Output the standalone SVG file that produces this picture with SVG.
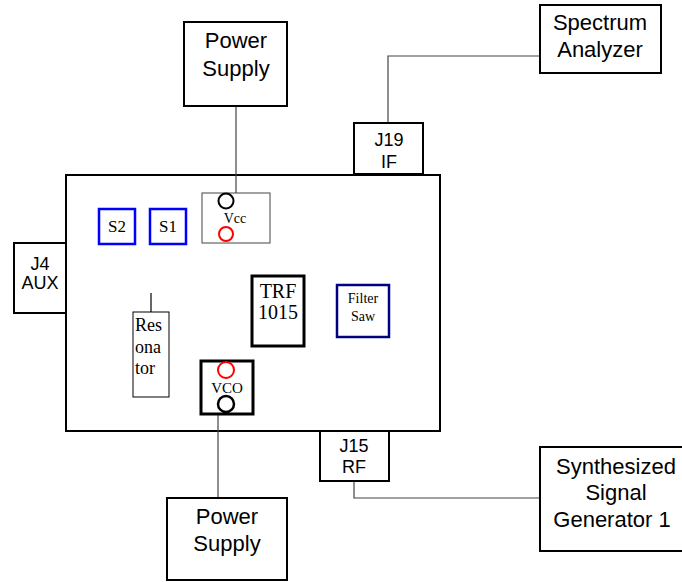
<svg xmlns="http://www.w3.org/2000/svg" width="682" height="582" viewBox="0 0 682 582">
<style>
.box{fill:#fff;stroke:#000;stroke-width:2}
.wire{fill:none;stroke:#444;stroke-width:1.2}
.sans{font-family:"Liberation Sans",Arial,sans-serif;fill:#000;text-anchor:middle}
.serif{font-family:"Liberation Serif","Times New Roman",serif;fill:#000;text-anchor:middle}
.blue{fill:#fff;stroke:#0000ff;stroke-width:2.5}
</style>
<rect width="682" height="582" fill="#fff"/>
<g id="board"><rect x="66" y="175" width="374" height="256" class="box"/></g>
<g id="connectors">
<path class="wire" d="M236,107 V193"/>
<path class="wire" d="M540,56 H388 V123"/>
<path class="wire" d="M218,412 V498"/>
<path class="wire" d="M354,481 V498 H540"/>
<path class="wire" d="M151,293 V312" style="stroke:#000"/>
</g>
<g id="power-top"><rect x="184" y="22" width="103" height="84" class="box"/>
<text class="sans" x="236" y="48" font-size="22">Power</text>
<text class="sans" x="236" y="76" font-size="22">Supply</text></g>
<g id="spectrum"><rect x="540" y="5" width="121" height="68" class="box"/>
<text class="sans" x="600" y="30" font-size="22">Spectrum</text>
<text class="sans" x="600" y="57" font-size="22">Analyzer</text></g>
<g id="j19"><rect x="354" y="123" width="69" height="51" class="box"/>
<text class="sans" x="389" y="146" font-size="18">J19</text>
<text class="sans" x="389" y="168" font-size="18">IF</text></g>
<g id="j4"><rect x="14" y="243" width="52" height="70" class="box"/>
<text class="sans" x="40" y="270" font-size="18">J4</text>
<text class="sans" x="40" y="289" font-size="18">AUX</text></g>
<g id="s2"><rect x="99" y="209" width="36" height="35" class="blue"/>
<text class="serif" x="117" y="232" font-size="17">S2</text></g>
<g id="s1"><rect x="150" y="209" width="36" height="35" class="blue"/>
<text class="serif" x="168" y="232" font-size="17">S1</text></g>
<g id="vcc"><rect x="202" y="193" width="68" height="50" fill="#fff" stroke="#444" stroke-width="1"/>
<circle cx="226" cy="201" r="7.5" fill="none" stroke="#000" stroke-width="2"/>
<circle cx="226" cy="234" r="7" fill="none" stroke="#ff0000" stroke-width="2"/>
<text class="serif" x="235" y="223" font-size="14">Vcc</text></g>
<g id="trf"><rect x="252" y="276" width="52" height="70" fill="#fff" stroke="#000" stroke-width="3"/>
<text class="serif" x="278" y="298" font-size="20">TRF</text>
<text class="serif" x="278" y="319" font-size="20">1015</text></g>
<g id="filter"><rect x="337" y="285" width="52" height="52" fill="#fff" stroke="#000080" stroke-width="2.5"/>
<text class="serif" x="363" y="303" font-size="14">Filter</text>
<text class="serif" x="363" y="321" font-size="14">Saw</text></g>
<g id="resonator"><rect x="133" y="312" width="36" height="85" fill="#fff" stroke="#000" stroke-width="1"/>
<text class="serif" x="135" y="331" font-size="18" style="text-anchor:start">Res</text>
<text class="serif" x="135" y="353" font-size="18" style="text-anchor:start">ona</text>
<text class="serif" x="135" y="374" font-size="18" style="text-anchor:start">tor</text></g>
<g id="vco"><rect x="201" y="361" width="52" height="53" fill="#fff" stroke="#000" stroke-width="3"/>
<circle cx="226" cy="370" r="8" fill="none" stroke="#ff0000" stroke-width="2"/>
<circle cx="226" cy="404" r="8" fill="none" stroke="#000" stroke-width="2.5"/>
<text class="serif" x="227" y="393" font-size="15">VCO</text></g>
<g id="j15"><rect x="320" y="431" width="69" height="50" class="box"/>
<text class="sans" x="354" y="452" font-size="18">J15</text>
<text class="sans" x="354" y="473" font-size="18">RF</text></g>
<g id="power-bottom"><rect x="167" y="498" width="120" height="82" class="box"/>
<text class="sans" x="227" y="524" font-size="22">Power</text>
<text class="sans" x="227" y="551" font-size="22">Supply</text></g>
<g id="synth"><rect x="540" y="447" width="160" height="104" class="box"/>
<text class="sans" x="616" y="474" font-size="22">Synthesized</text>
<text class="sans" x="616" y="500" font-size="22">Signal</text>
<text class="sans" x="612" y="527" font-size="22">Generator 1</text></g>
</svg>
